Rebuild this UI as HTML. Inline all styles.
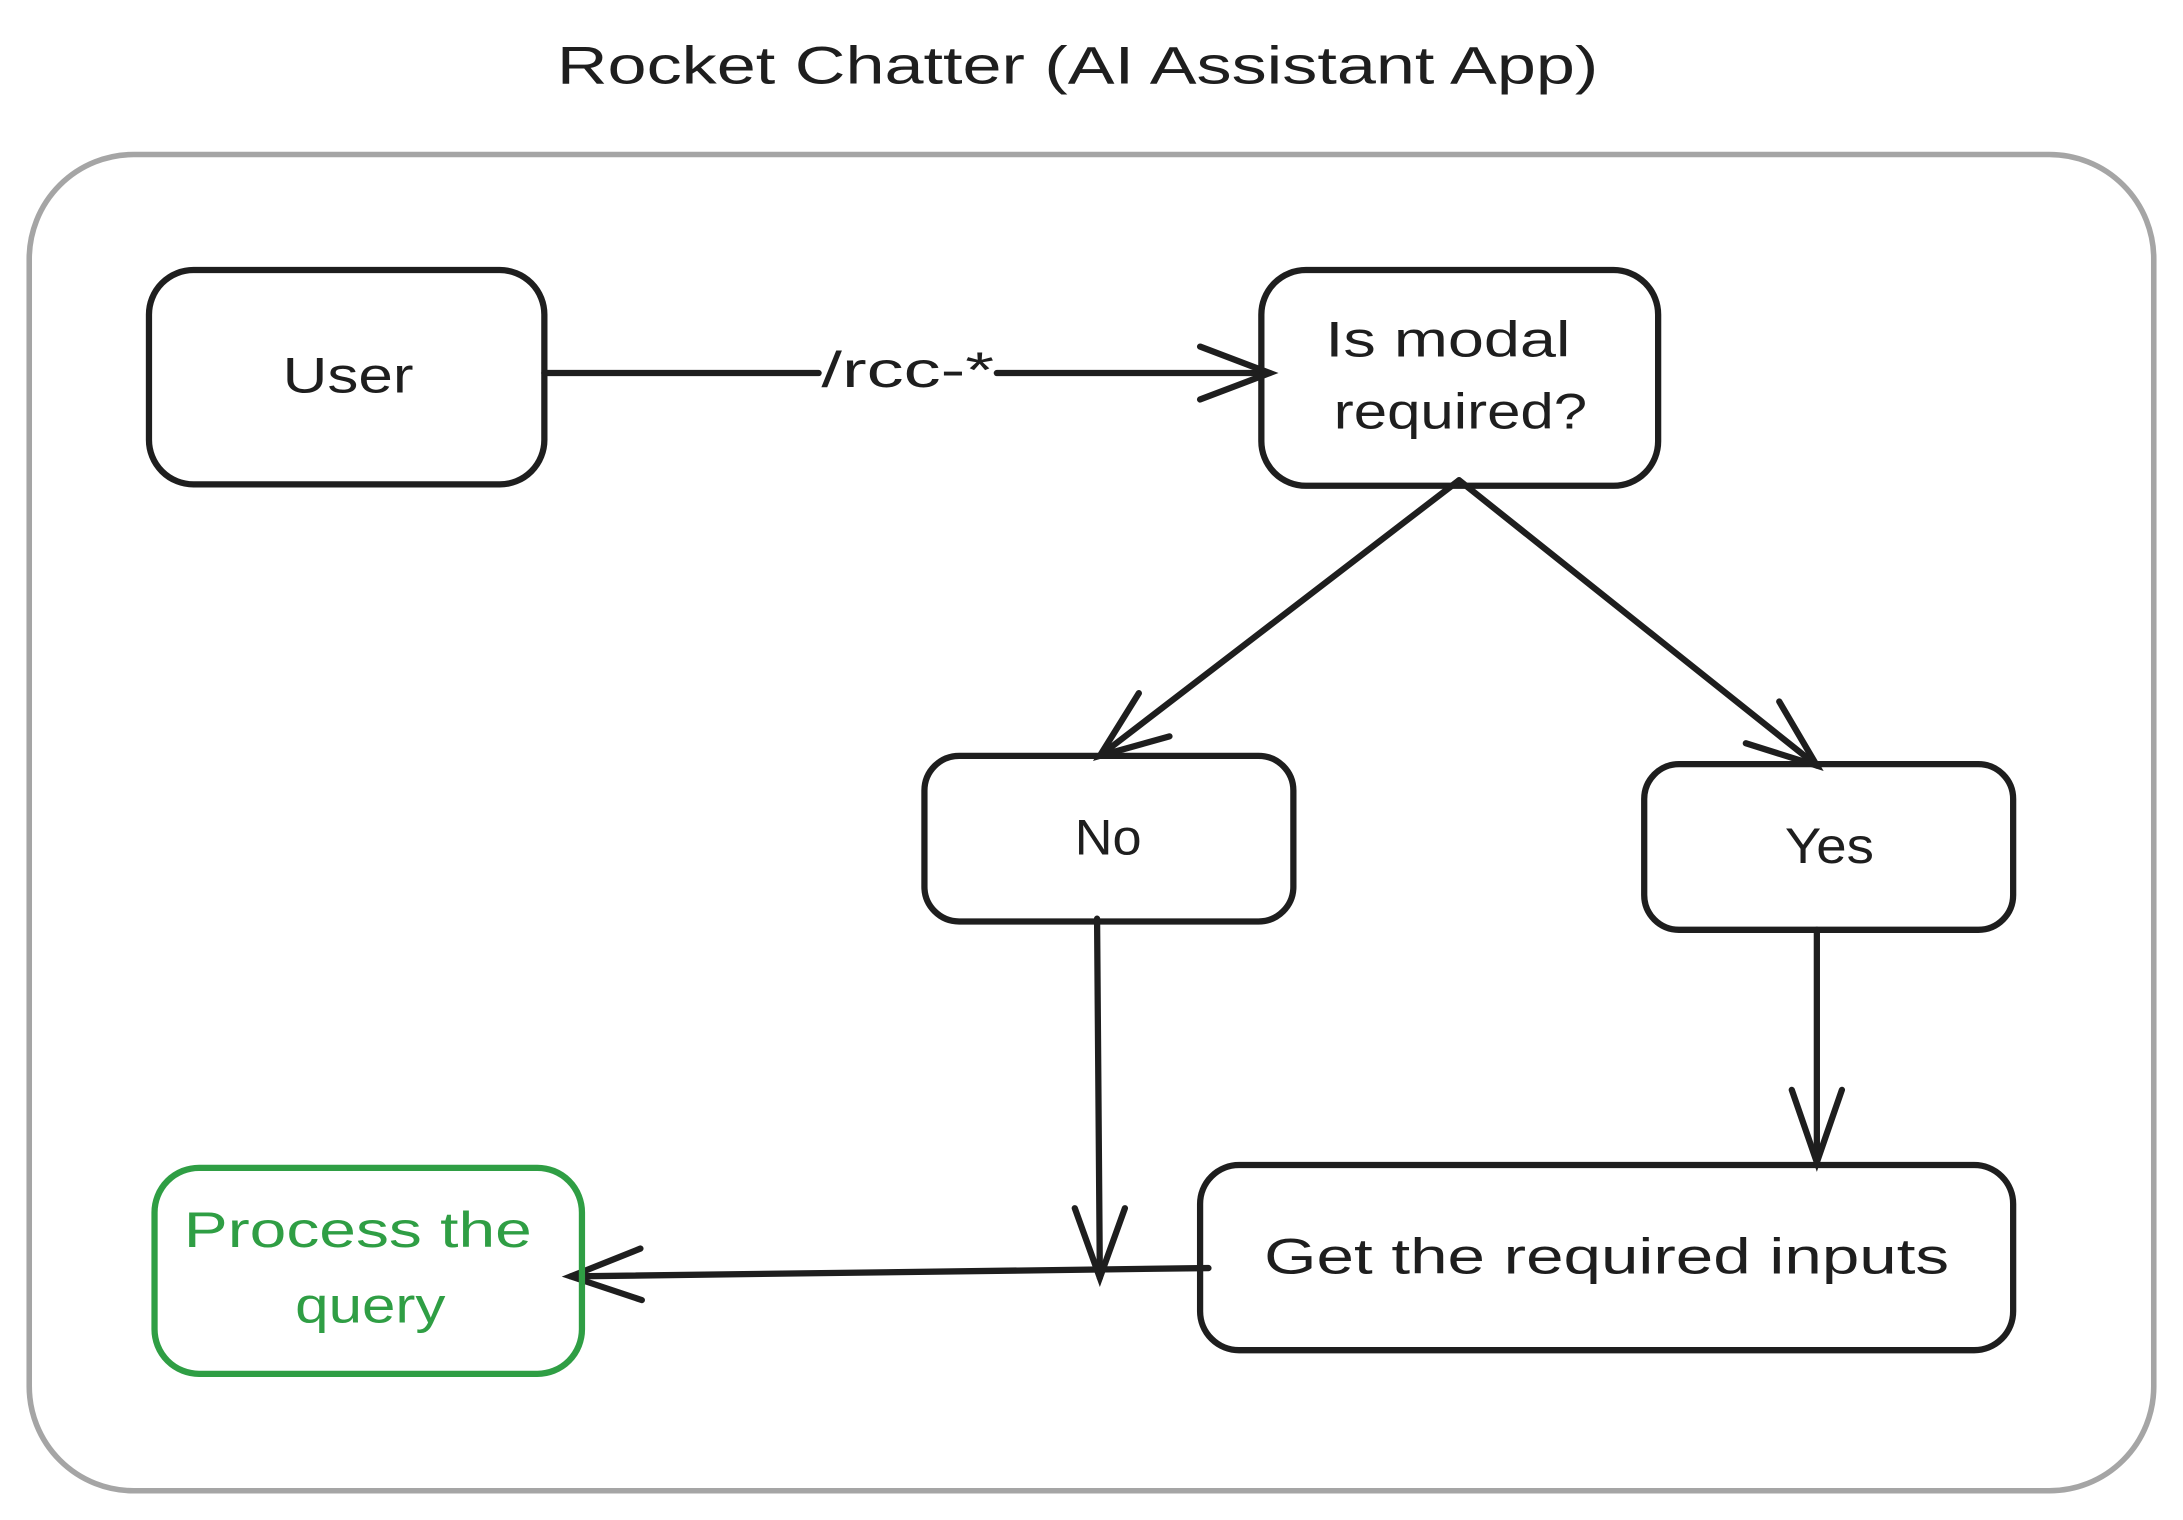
<!DOCTYPE html>
<html><head><meta charset="utf-8"><style>
html,body{margin:0;padding:0;background:#fff;}
svg{display:block;}
text{font-family:"Liberation Sans",sans-serif;fill:#1e1e1e;}
</style></head><body>
<svg width="2183" height="1520" viewBox="0 0 1568 1092" preserveAspectRatio="none" xmlns="http://www.w3.org/2000/svg">
<text x="400" y="60" font-size="38" textLength="748" lengthAdjust="spacingAndGlyphs">Rocket Chatter (AI Assistant App)</text>
<rect x="21" y="111" width="1526" height="960" rx="75" fill="none" stroke="#a5a5a5" stroke-width="4"/>
<g fill="none" stroke="#1e1e1e" stroke-width="4.5" stroke-linecap="round">
<rect x="107" y="194" width="284" height="154" rx="32"/>
<rect x="906" y="194" width="285" height="155" rx="32"/>
<rect x="664" y="543" width="265" height="119" rx="25"/>
<rect x="1181" y="549" width="265" height="119" rx="25"/>
<rect x="862" y="837" width="584" height="133" rx="28"/>
<line x1="391" y1="268" x2="588" y2="268"/>
<line x1="716" y1="268" x2="912" y2="268"/>
<polyline points="862,249 912,268 862,287"/>
<line x1="1048" y1="345" x2="790" y2="543"/>
<polyline points="818,498 790,543 840,529"/>
<line x1="1048" y1="345" x2="1305" y2="550"/>
<polyline points="1254,534 1305,550 1278,504"/>
<line x1="788" y1="660" x2="790" y2="918"/>
<polyline points="772,868 790,918 808,868"/>
<line x1="1305" y1="668" x2="1305" y2="835"/>
<polyline points="1287,783 1305,835 1323,783"/>
<line x1="868" y1="911" x2="410" y2="917"/>
<polyline points="460,897 410,917 461,934"/>
</g>
<rect x="111" y="839" width="307" height="148" rx="32" fill="none" stroke="#2f9e44" stroke-width="4.5"/>
<g font-size="36" lengthAdjust="spacingAndGlyphs">
<text x="203" y="282" textLength="94" lengthAdjust="spacingAndGlyphs">User</text>
<text x="590" y="278" textLength="124" lengthAdjust="spacingAndGlyphs">/rcc-*</text>
<text x="952" y="256" textLength="176" lengthAdjust="spacingAndGlyphs">Is modal</text>
<text x="958" y="308" textLength="182" lengthAdjust="spacingAndGlyphs">required?</text>
<text x="772" y="614" textLength="48" lengthAdjust="spacingAndGlyphs">No</text>
<text x="1282" y="620" textLength="64" lengthAdjust="spacingAndGlyphs">Yes</text>
<text x="908" y="915" textLength="492" lengthAdjust="spacingAndGlyphs">Get the required inputs</text>
<text x="132" y="896" textLength="250" lengthAdjust="spacingAndGlyphs" style="fill:#2f9e44">Process the</text>
<text x="212" y="950" textLength="108" lengthAdjust="spacingAndGlyphs" style="fill:#2f9e44">query</text>
</g>
</svg>
</body></html>
